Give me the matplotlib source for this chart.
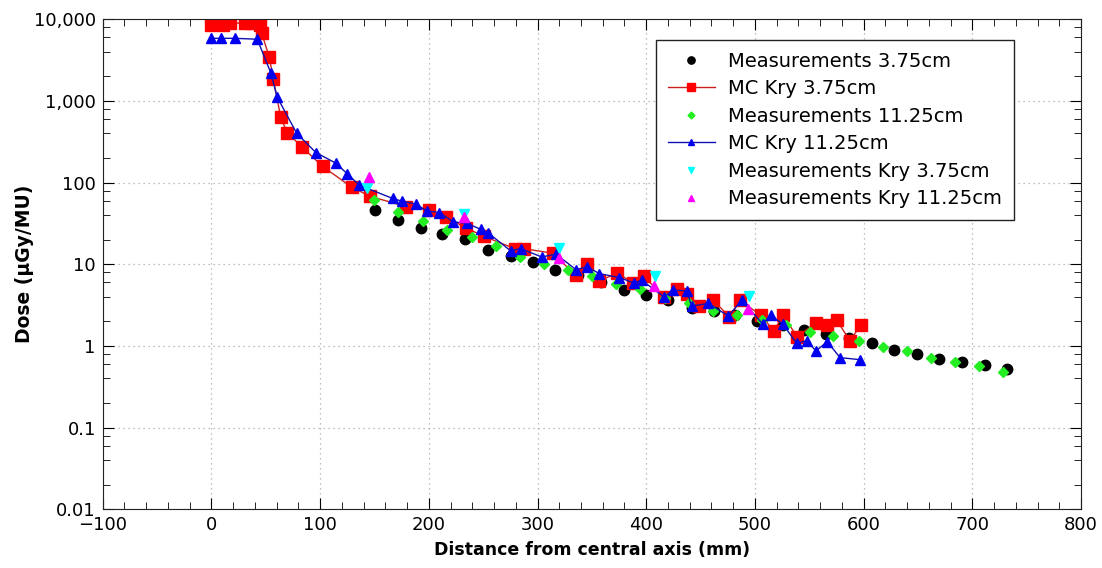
import matplotlib
matplotlib.use("Agg")
import matplotlib.pyplot as plt
from matplotlib.ticker import LogLocator, FuncFormatter, MultipleLocator, NullFormatter

# black circles
meas_375_x = [150.5, 171.4, 192.6, 212.4, 233.2, 254.7, 275.3, 295.5, 316.1, 337.0, 358.4, 379.6,
              399.5, 420.4, 441.8, 462.3, 481.7, 502.2, 525.6, 545.1, 565.4, 586.8, 607.4, 628.3,
              649.4, 669.6, 690.2, 711.7, 732.2]
meas_375_y = [46.5, 34.5, 28.2, 23.8, 20.2, 14.8, 12.5, 10.7, 8.6, 7.3, 6.05, 4.9,
              4.18, 3.63, 2.95, 2.69, 2.38, 2.02, 1.8, 1.59, 1.4, 1.24, 1.08, 0.9,
              0.79, 0.70, 0.64, 0.58, 0.52]

# red squares + line
mc_375_x = [0, 11, 17.1, 30.9, 37.0, 44.6, 46.1, 53.3, 56.9, 63.8, 69.8, 83.0, 102.3, 129.1,
            145.9, 179.0, 200.5, 215.8, 233.9, 250.8, 279.3, 287.6, 313.9, 335.4, 345.3, 356.8,
            373.4, 388.1, 398.0, 416.4, 428.1, 437.3, 448.9, 461.7, 476.5, 486.3, 505.3, 517.5,
            525.6, 539.0, 556.2, 566.0, 575.2, 587.5, 597.3]
mc_375_y = [8500, 8500, 8900, 9050, 9050, 8500, 6850, 3430, 1850, 628, 408, 276, 158, 88,
            68, 51, 46, 38, 28, 22, 15.5, 15.5, 13.7, 7.3, 10.2, 6.25,
            7.8, 5.9, 7.1, 4.0, 5.05, 4.3, 3.07, 3.63, 2.27, 3.63, 2.38, 1.53,
            2.38, 1.3, 1.92, 1.8, 2.07, 1.16, 1.8]

# green diamonds
meas_1125_x = [149.5, 171.9, 194.4, 216.4, 240.0, 261.8, 283.9, 306.3, 328.3, 349.8, 372.2, 394.2,
               417.3, 439.7, 461.7, 483.8, 506.3, 528.6, 550.7, 572.2, 596.0, 617.6, 639.6, 661.7,
               684.1, 706.1, 728.5]
meas_1125_y = [60.5, 43.8, 33.6, 26.2, 21.6, 16.6, 12.3, 10.2, 8.45, 7.15, 5.8, 5.05,
               3.92, 3.38, 2.7, 2.38, 2.08, 1.8, 1.49, 1.32, 1.16, 0.97, 0.87, 0.72,
               0.63, 0.567, 0.475]

# blue triangles + line
mc_1125_x = [0, 8.5, 21.7, 42.2, 54.5, 60.6, 78.5, 96.2, 114.6, 125.0, 136.1, 166.8, 175.1,
             188.2, 198.0, 209.7, 222.6, 235.4, 248.0, 254.7, 275.3, 284.5, 303.8, 317.1, 335.4,
             345.9, 356.8, 375.3, 388.8, 395.8, 416.4, 425.0, 437.3, 441.8, 457.2, 475.6, 487.9,
             507.1, 514.6, 525.6, 538.4, 547.6, 556.2, 566.6, 578.3, 596.5]
mc_1125_y = [5850, 5850, 5850, 5700, 2230, 1110, 401, 233, 173, 128, 93, 64, 59.4,
             54.5, 45.2, 43, 33.1, 31.6, 26.7, 24.2, 14.6, 15.6, 12.3, 13.3, 8.6,
             9.3, 7.7, 6.88, 5.9, 6.38, 4.0, 4.82, 4.74, 3.07, 3.32, 2.33, 3.63,
             1.86, 2.38, 1.86, 1.08, 1.16, 0.87, 1.13, 0.72, 0.68]

# cyan / magenta
kry_375_x = [142.8, 232.2, 320.0, 408.1, 494.9]
kry_375_y = [87, 41, 16.0, 7.15, 4.1]
kry_1125_x = [145.1, 232.2, 320.0, 407.2, 493.9]
kry_1125_y = [118, 38, 11.8, 5.37, 2.8]

fig = plt.figure(figsize=(11.02, 5.68), dpi=100)
ax = fig.add_axes([102.7 / 1102, 58.7 / 568, 978.3 / 1102, 490 / 568])

ax.plot(meas_375_x, meas_375_y, "o", color="black", ms=7.5, ls="none", label="Measurements 3.75cm")
ax.plot(mc_375_x, mc_375_y, "s-", color="#cc2020", mfc="#ff0000", mec="#ff0000", ms=8, lw=1,
        label="MC Kry 3.75cm")
ax.plot(meas_1125_x, meas_1125_y, "D", color="#22ee22", ms=5, ls="none", label="Measurements 11.25cm")
ax.plot(mc_1125_x, mc_1125_y, "^-", color="#1010b0", mfc="#0000ee", mec="#0000ee", ms=7, lw=1,
        label="MC Kry 11.25cm")
ax.plot(kry_375_x, kry_375_y, "v", color="#00ffff", ms=7, ls="none", label="Measurements Kry 3.75cm")
ax.plot(kry_1125_x, kry_1125_y, "^", color="#ff00ff", ms=7, ls="none", label="Measurements Kry 11.25cm")

ax.set_yscale("log")
ax.set_xlim(-100, 800)
ax.set_ylim(0.01, 10000)
ax.xaxis.set_major_locator(MultipleLocator(100))
ax.xaxis.set_minor_locator(MultipleLocator(20))
ax.yaxis.set_major_locator(LogLocator(base=10, numticks=10))
ax.yaxis.set_minor_locator(LogLocator(base=10, subs=(2, 4, 6, 8), numticks=10))
ax.yaxis.set_minor_formatter(NullFormatter())


def yfmt(v, pos):
    if v >= 1:
        return f"{v:,.0f}"
    return f"{v:g}"


ax.yaxis.set_major_formatter(FuncFormatter(yfmt))
ax.xaxis.set_major_formatter(FuncFormatter(lambda v, p: f"{v:.0f}".replace("-", "\u2212")))

ax.tick_params(which="both", direction="in", top=True, right=True, labelsize=13)
ax.tick_params(which="major", length=8, pad=5)
ax.tick_params(which="minor", length=5)
ax.grid(which="major", ls=(0, (1, 3)), color="#aaaaaa", lw=0.9)
for s in ax.spines.values():
    s.set_color("#222222")

ax.set_xlabel("Distance from central axis (mm)", fontsize=12.5, fontweight="bold", labelpad=5)
ax.set_ylabel("Dose (\u00b5Gy/MU)", fontsize=13.5, fontweight="bold", labelpad=0)

leg = ax.legend(loc="upper left", bbox_to_anchor=(0.566, 0.958), fontsize=14, fancybox=False,
                edgecolor="#222222", framealpha=1, handlelength=2.4, handletextpad=0.7,
                borderpad=0.6, labelspacing=0.44, markerscale=0.7, borderaxespad=0)
leg.get_frame().set_linewidth(1)

plt.savefig("out.png", dpi=100)
